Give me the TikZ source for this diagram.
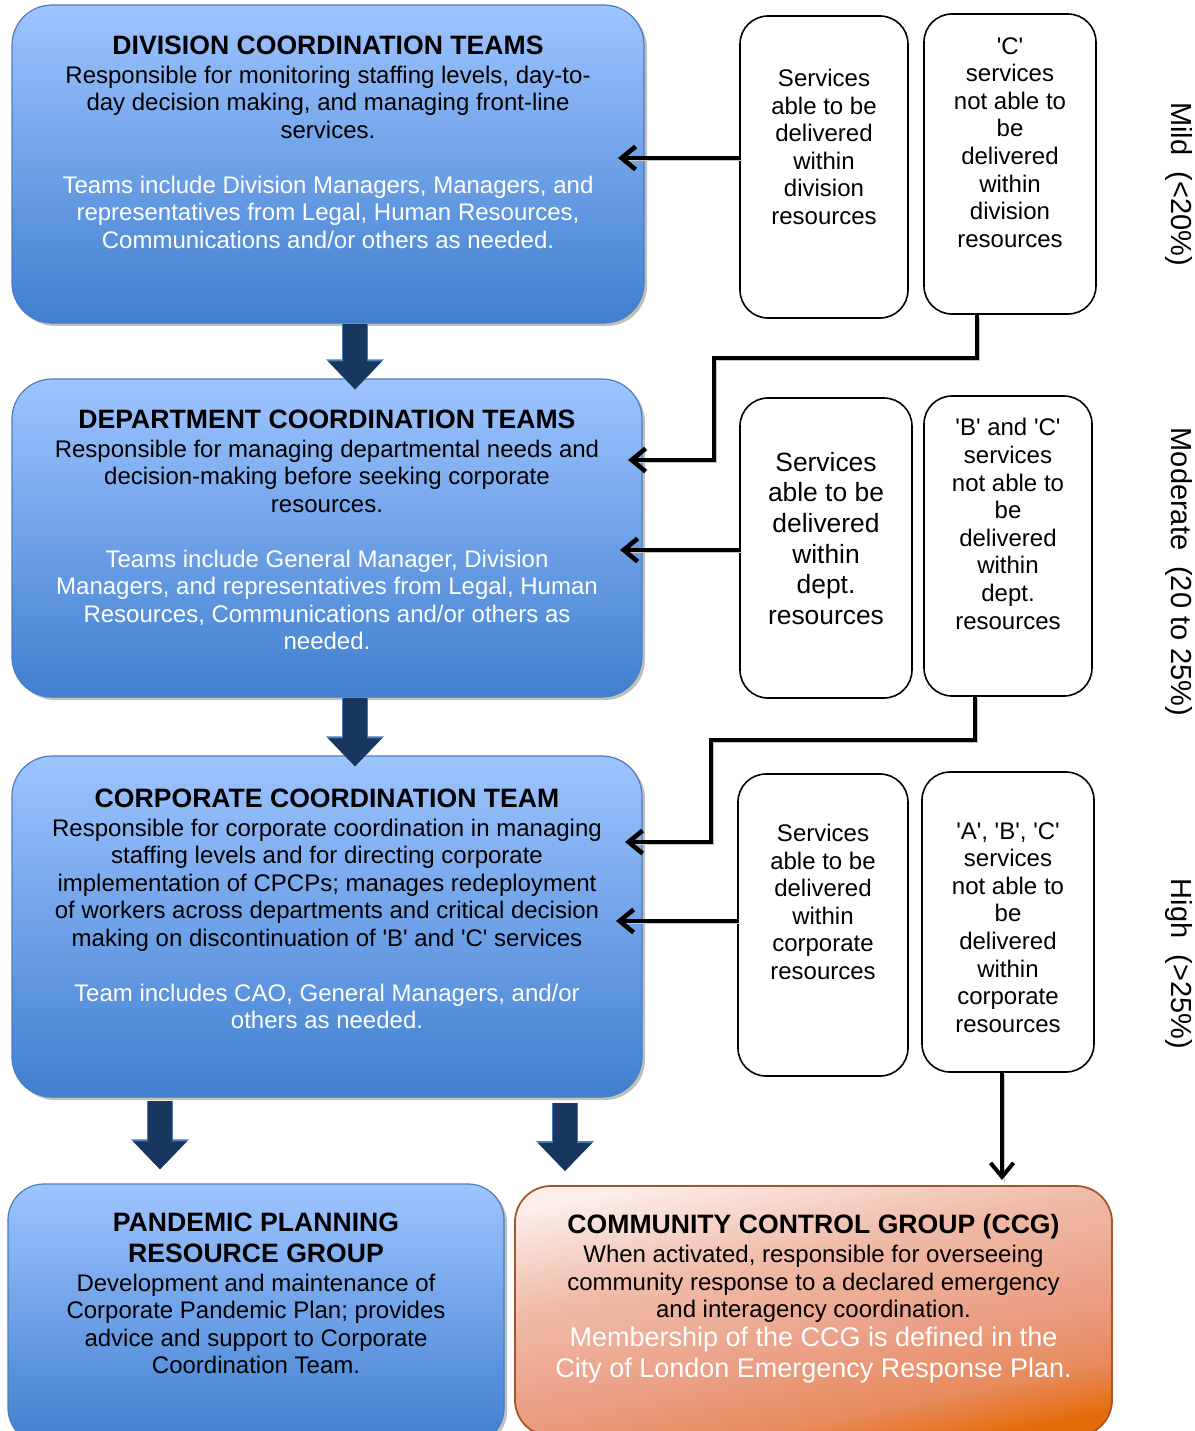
\documentclass[tikz,border=0pt]{standalone}
\usepackage{fontspec}
\setmainfont{Liberation Sans}
\usetikzlibrary{arrows.meta,positioning,shadows,calc}
\definecolor{skytop}{HTML}{9EC4FF}
\definecolor{skymid}{HTML}{75A5EA}
\definecolor{skybot}{HTML}{3F7FCF}
\definecolor{skyline}{HTML}{4A7EBB}
\definecolor{navy}{HTML}{17375E}
\definecolor{peach}{HTML}{FCEFEB}
\definecolor{blush}{HTML}{F0BCA9}
\definecolor{salmon}{HTML}{EBA087}
\definecolor{coral}{HTML}{E88A5C}
\definecolor{amber}{HTML}{E46C0A}
\definecolor{rust}{HTML}{A5552A}
\pgfdeclareverticalshading{ccgshade}{100bp}{color(0bp)=(amber); color(24bp)=(amber);
  color(32bp)=(coral); color(44bp)=(salmon); color(60bp)=(blush); color(76bp)=(peach); color(100bp)=(peach)}
\newcommand\sq{\textquotesingle}
\newcommand\headline[1]{{\fontsize{13.3}{14}\selectfont\bfseries #1}}
\newcommand\wtxt[1]{\textcolor{white}{#1}}

\tikzset{
  bluebox/.style={rounded corners=20pt, draw=skyline, line width=0.6pt,
    top color=skytop, middle color=skymid, bottom color=skybot,
    drop shadow={shadow xshift=1.5pt, shadow yshift=-1.5pt, fill=black!25, opacity=1}},
  orangebox/.style={rounded corners=18pt, draw=rust, line width=0.9pt,
    shading=ccgshade, shading angle=12},
  cellbox/.style={rounded corners=14pt, draw=black, line width=0.8pt, fill=white},
  bodytext/.style={align=center, font=\fontsize{12}{13.75}\selectfont, inner sep=0pt, anchor=north},
  celltext/.style={align=center, font=\fontsize{12}{13.8}\selectfont, inner sep=0pt},
  sidelabel/.style={rotate=-90, font=\fontsize{14.5}{16}\selectfont, inner sep=0pt},
  bigarrow/.style={navy, line width=12pt, -{Triangle[length=14pt,width=26pt]},
    preaction={draw=skyline, line width=13pt, -{Triangle[length=15pt,width=28pt]}}},
  link/.style={line width=2.3pt, -{Straight Barb[length=7pt,width=11.5pt]},
    preaction={draw=black!22, -, transform canvas={shift={(1.2pt,-1.2pt)}}}},
}

\begin{document}
\begin{tikzpicture}[x=0.5pt,y=-0.5pt]
\useasboundingbox (0,0) rectangle (1195,1431);

% coordination teams
\node[bluebox, minimum width=316pt, minimum height=159pt] (div) at (328,164) {};
\node[bluebox, minimum width=315pt, minimum height=159pt] (dep) at (327,538) {};
\node[bluebox, minimum width=315pt, minimum height=170.5pt] (corp) at (327,926.5) {};
\node[bluebox, rounded corners=18pt, minimum width=248pt, minimum height=130pt] (pan) at (256,1314) {};
\node[orangebox, minimum width=298.5pt, minimum height=125pt] (ccg) at (813.5,1311) {};

\node[bodytext, below=15.5pt of div.north] (divtxt) {\headline{DIVISION COORDINATION TEAMS}\\[0.75pt]
  Responsible for monitoring staffing levels, day-to-\\
  day decision making, and managing front-line\\
  services.\\[13.75pt]
  \wtxt{Teams include Division Managers, Managers, and}\\
  \wtxt{representatives from Legal, Human Resources,}\\
  \wtxt{Communications and/or others as needed.}};
\node[bodytext, below=15.5pt of dep.north] (deptxt) {\headline{DEPARTMENT COORDINATION TEAMS}\\[0.75pt]
  Responsible for managing departmental needs and\\
  decision-making before seeking corporate\\
  resources.\\[13.75pt]
  \wtxt{Teams include General Manager, Division}\\
  \wtxt{Managers, and representatives from Legal, Human}\\
  \wtxt{Resources, Communications and/or others as}\\
  \wtxt{needed.}};
\node[bodytext, below=16.5pt of corp.north] (corptxt) {\headline{CORPORATE COORDINATION TEAM}\\[0.75pt]
  Responsible for corporate coordination in managing\\
  staffing levels and for directing corporate\\
  implementation of CPCPs; manages redeployment\\
  of workers across departments and critical decision\\
  making on discontinuation of \sq B\sq{} and \sq C\sq{} services\\[13.75pt]
  \wtxt{Team includes CAO, General Managers, and/or}\\
  \wtxt{others as needed.}};
\node[bodytext, below=14.5pt of pan.north] (pantxt) {\headline{PANDEMIC PLANNING}\\[1.75pt]
  \headline{RESOURCE GROUP}\\[0.75pt]
  Development and maintenance of\\
  Corporate Pandemic Plan; provides\\
  advice and support to Corporate\\
  Coordination Team.};
\node[bodytext, below=14.5pt of ccg.north] (ccgtxt) {\headline{COMMUNITY CONTROL GROUP (CCG)}\\[0.75pt]
  When activated, responsible for overseeing\\
  community response to a declared emergency\\
  and interagency coordination.\\[0.75pt]
  {\fontsize{13.5}{15}\selectfont\wtxt{Membership of the CCG is defined in the}}\\[1.75pt]
  {\fontsize{13.5}{15}\selectfont\wtxt{City of London Emergency Response Plan.}}};

% service boxes
\node[cellbox, minimum width=84pt, minimum height=151pt] (r1a) at (824,167) {};
\node[cellbox, minimum width=86pt, minimum height=150pt] (r1b) at (1010,164) {};
\node[cellbox, minimum width=86pt, minimum height=150pt] (r2a) at (826,548) {};
\node[cellbox, minimum width=84pt, minimum height=150pt] (r2b) at (1008,546) {};
\node[cellbox, minimum width=85pt, minimum height=151pt] (r3a) at (823,925) {};
\node[cellbox, minimum width=86pt, minimum height=150pt] (r3b) at (1008,922) {};

\node[celltext, yshift=10pt] (r1at) at (r1a) {Services\\able to be\\delivered\\within\\division\\resources};
\node[celltext, yshift=10.75pt] (r1bt) at (r1b) {\sq C\sq\\services\\not able to\\be\\delivered\\within\\division\\resources};
\node[celltext, yshift=4.75pt, font=\fontsize{13.2}{15.35}\selectfont] (r2at) at (r2a) {Services\\able to be\\delivered\\within\\dept.\\resources};
\node[celltext, yshift=11pt] (r2bt) at (r2b) {\sq B\sq{} and \sq C\sq\\services\\not able to\\be\\delivered\\within\\dept.\\resources};
\node[celltext, yshift=11.5pt] (r3at) at (r3a) {Services\\able to be\\delivered\\within\\corporate\\resources};
\node[celltext, yshift=-2.75pt] (r3bt) at (r3b) {\sq A\sq, \sq B\sq, \sq C\sq\\services\\not able to\\be\\delivered\\within\\corporate\\resources};

% levels
\node[sidelabel] (mild) at (1179,184) {Mild\ \ (<20\%)};
\node[sidelabel] (moderate) at (1179,572) {Moderate\ \ (20 to 25\%)};
\node[sidelabel] (high) at (1179,964) {High\ \ (>25\%)};

% escalation
\draw[bigarrow] ($(div.south)+(27,0)$) -- ($(dep.north)+(28,11)$);
\draw[bigarrow] ($(dep.south)+(28,0)$) -- ($(corp.north)+(28,11)$);
\draw[bigarrow] ($(corp.south)+(-167,3)$) -- ($(pan.north)+(-96,-14)$);
\draw[bigarrow] ($(corp.south)+(238,5)$) -- ($(ccg.north)+(-248.5,-14)$);

\coordinate (t1) at (618,158);
\coordinate (j1) at (977,358);
\coordinate (j2) at (714,460);
\coordinate (t2) at (628,460);
\coordinate (t3) at (620,550);
\coordinate (j3) at (975,740);
\coordinate (j4) at (711,842);
\coordinate (t4) at (625,842);
\coordinate (t5) at (616,921);
\coordinate (t6) at (1002,1180);

\draw[link] (r1a.west |- t1) -- (t1);
\draw[link] (r1b.south -| j1) -- (j1) -| (j2) -- (t2);
\draw[link] (r2a.west |- t3) -- (t3);
\draw[link] (r2b.south -| j3) -- (j3) -| (j4) -- (t4);
\draw[link] (r3a.west |- t5) -- (t5);
\draw[link, line width=2pt] (r3b.south -| t6) -- (t6);
\end{tikzpicture}
\end{document}
